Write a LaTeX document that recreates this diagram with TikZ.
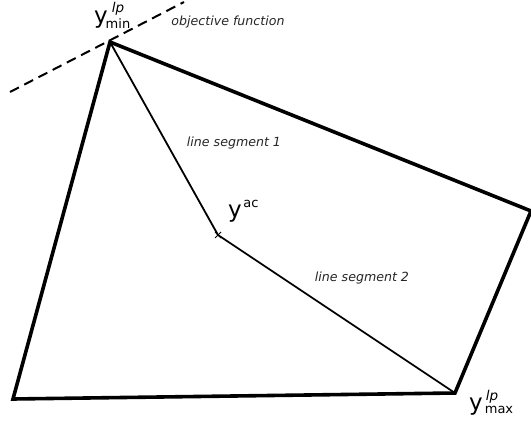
\documentclass[tikz,border=0pt]{standalone}
\usepackage{fontspec}
\setmainfont{DejaVu Sans}
\usetikzlibrary{calc}
\begin{document}
\begin{tikzpicture}[x=1pt,y=-1pt,
  poly/.style={line width=3.6pt,line join=miter},
  seg/.style={line width=1.8pt},
  lbl/.style={font=\fontsize{12.6}{14}\selectfont\itshape,text=black!85},
  ybig/.style={font=\fontsize{23}{24}\selectfont,inner sep=0pt},
  supsub/.style={font=\fontsize{13}{14}\selectfont,inner sep=0pt},
  supit/.style={font=\fontsize{13.5}{14}\selectfont\itshape,inner sep=0pt}]
\useasboundingbox (0,0) rectangle (531,425);
\coordinate (top) at (110,42);
\coordinate (right) at (531,211);
\coordinate (br) at (455,393);
\coordinate (bl) at (13,399);
\coordinate (ac) at (218,235);
\coordinate (d1) at (10,92);
\coordinate (d2) at (184,2);
\draw[poly] (top) -- (right) -- (br) -- (bl) -- cycle;
\draw[seg] (top) -- (ac) -- (br);
\draw[line width=2pt,dash pattern=on 10pt off 6pt] (d1) -- (d2);
\draw[line width=0.8pt] ($(ac)+(-3,-3)$) -- ($(ac)+(3,3)$) ($(ac)+(-3,3)$) -- ($(ac)+(3,-3)$);
% labels
\node[ybig] (ymin) at (101,20) {y};
\node[supit,anchor=south] (lp1) at (118,16) {lp};
\node[supsub,anchor=north] (min) at (118,18) {min};
\node[lbl] (obj) at (228,22) {objective function};
\node[lbl] (ls1) at (234,143) {line segment 1};
\node[ybig] (yac) at (235,214) {y};
\node[supsub] (ac1) at (251,204) {ac};
\node[lbl] (ls2) at (362,278) {line segment 2};
\node[ybig] (ymax) at (476,407) {y};
\node[supit,anchor=south] (lp2) at (492,404) {lp};
\node[supsub,anchor=north] (max) at (499,406) {max};
\end{tikzpicture}
\end{document}
